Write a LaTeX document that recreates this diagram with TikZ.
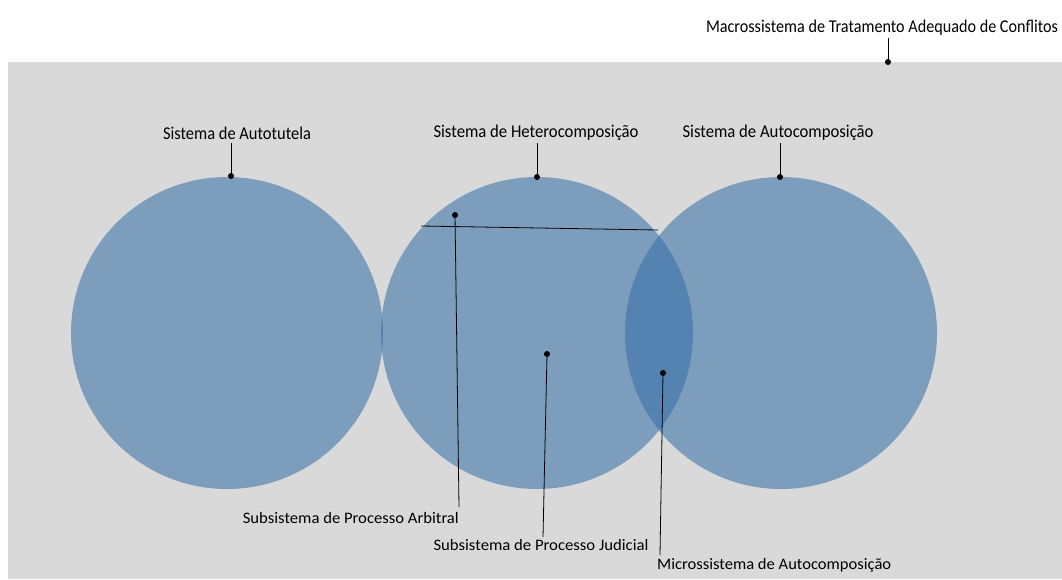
\documentclass[tikz,border=0pt]{standalone}
\usepackage{fontspec}
\setmainfont{Carlito}
\usepackage{graphicx}
\definecolor{bggray}{RGB}{217,217,217}
\definecolor{circblue}{RGB}{56,112,168}
\begin{document}
\begin{tikzpicture}[x=1pt,y=-1pt,
  circ/.style={fill=circblue,fill opacity=0.57,draw=none},
  lbl/.style={inner sep=0pt,font=\fontsize{16}{19}\selectfont,text=black},
  toplbl/.style={lbl,font=\fontsize{18}{21}\selectfont},
  pin/.style={draw=black,line width=0.8pt},
  dot/.style={circle,fill=black,inner sep=0pt,minimum size=6pt}]
\useasboundingbox (0,0) rectangle (1062,579);
\fill[white] (0,0) rectangle (1062,579);
\fill[bggray] (8,62) rectangle (1062,579);
% circles
\fill[circ] (227,333) circle (156);
\fill[circ] (537,333) circle (156);
\fill[circ] (781,333) circle (156);
% labels
\node[toplbl] (macro) at (882,28) {\resizebox{352pt}{\height}{Macrossistema de Tratamento Adequado de Conflitos}};
\node[toplbl] (auto) at (237,133) {\resizebox{148pt}{\height}{Sistema de Autotutela}};
\node[toplbl] (hetero) at (536,133) {\resizebox{205pt}{\height}{Sistema de Heterocomposição}};
\node[toplbl] (autoc) at (778,133) {\resizebox{191pt}{\height}{Sistema de Autocomposição}};
\node[lbl,anchor=east] (arb) at (459,518) {\resizebox{216pt}{\height}{Subsistema de Processo Arbitral}};
\node[lbl] (jud) at (541,545) {\resizebox{215pt}{\height}{Subsistema de Processo Judicial}};
\node[lbl,anchor=west] (micro) at (657,565) {\resizebox{234pt}{\height}{Microssistema de Autocomposição}};
% dots
\node[dot] (dmacro) at (888,62) {};
\node[dot] (dauto) at (231,176) {};
\node[dot] (dhetero) at (537,177) {};
\node[dot] (dautoc) at (780,177) {};
\node[dot] (darb) at (455,215) {};
\node[dot] (djud) at (547,354) {};
\node[dot] (dmicro) at (663,373) {};
% pins
\coordinate (emacro) at (888,38);
\coordinate (eauto) at (231,143);
\coordinate (ehetero) at (537,143);
\coordinate (eautoc) at (780,143);
\coordinate (earb) at (459,507);
\coordinate (ejud) at (543,537);
\coordinate (emicro) at (660,555);
\coordinate (hl1) at (421,226);
\coordinate (hl2) at (658,230);
\draw[pin] (dmacro.center) -- (emacro);
\draw[pin] (dauto.center) -- (eauto);
\draw[pin] (dhetero.center) -- (ehetero);
\draw[pin] (dautoc.center) -- (eautoc);
\draw[pin] (darb.center) -- (earb);
\draw[pin] (djud.center) -- (ejud);
\draw[pin] (dmicro.center) -- (emicro);
\draw[pin] (hl1) -- (hl2);
\end{tikzpicture}
\end{document}
